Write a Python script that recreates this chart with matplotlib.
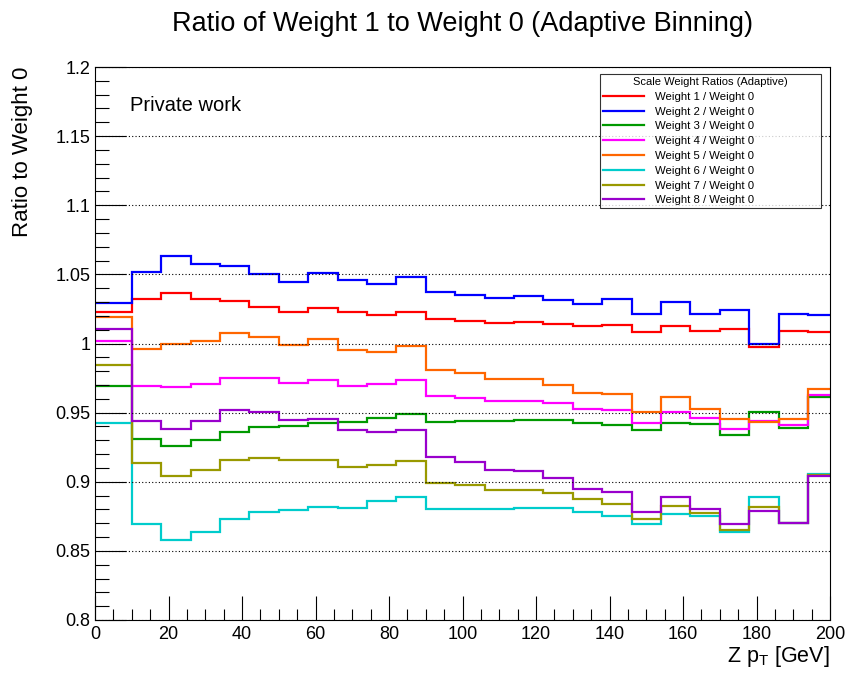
import matplotlib
matplotlib.use('Agg')
import matplotlib.pyplot as plt
from matplotlib.ticker import MultipleLocator

plt.rcParams['font.family'] = ['Liberation Sans', 'DejaVu Sans']

# Adaptive bin edges in Z pT [GeV]
edges = [0, 10, 18, 26, 34, 42, 50, 58, 66, 74, 82, 90, 98, 106, 114, 122,
         130, 138, 146, 154, 162, 170, 178, 186, 194, 200]

# Ratios, one value per bin
w1 = [1.023, 1.0324, 1.0368, 1.0324, 1.0305, 1.0266, 1.023, 1.0257, 1.023, 1.0206,
      1.023, 1.0175, 1.0163, 1.0148, 1.0156, 1.0139, 1.0127, 1.0136, 1.0081, 1.0129,
      1.009, 1.0102, 0.9975, 1.009, 1.0081]
w2 = [1.029, 1.0519, 1.0635, 1.0575, 1.056, 1.0505, 1.0443, 1.0512, 1.0462, 1.0428,
      1.0479, 1.0375, 1.0351, 1.0332, 1.0344, 1.0315, 1.0288, 1.0322, 1.0213, 1.030,
      1.0213, 1.024, 1.0, 1.0213, 1.0204]
w3 = [0.9693, 0.9309, 0.9261, 0.9305, 0.9363, 0.9394, 0.9406, 0.9423, 0.943, 0.9461,
      0.949, 0.943, 0.9437, 0.9437, 0.9445, 0.9445, 0.9428, 0.941, 0.9372, 0.9423,
      0.9415, 0.9336, 0.9502, 0.9387, 0.961]
w4 = [1.002, 0.9695, 0.9683, 0.9705, 0.9748, 0.9748, 0.9717, 0.9739, 0.9695, 0.9707,
      0.9739, 0.9623, 0.9606, 0.9584, 0.9584, 0.957, 0.9526, 0.9519, 0.9422, 0.9502,
      0.9461, 0.9383, 0.9436, 0.941, 0.963]
w5 = [1.0194, 0.9961, 0.9993, 1.002, 1.0078, 1.0049, 0.9989, 1.003, 0.9954, 0.9939,
      0.9983, 0.9808, 0.9786, 0.974, 0.974, 0.9703, 0.964, 0.9635, 0.9502, 0.9616,
      0.9526, 0.9456, 0.9434, 0.9456, 0.9671]
w6 = [0.9425, 0.8697, 0.8582, 0.8637, 0.8728, 0.8779, 0.8798, 0.8817, 0.881, 0.8861,
      0.889, 0.8803, 0.8803, 0.8803, 0.881, 0.881, 0.8781, 0.8752, 0.8694, 0.8766,
      0.8752, 0.8634, 0.889, 0.8704, 0.9059]
w7 = [0.9842, 0.9136, 0.9042, 0.9085, 0.9155, 0.9172, 0.9155, 0.916, 0.9107, 0.9119,
      0.9153, 0.8993, 0.8976, 0.8942, 0.8942, 0.8921, 0.8873, 0.8841, 0.8728, 0.8824,
      0.8774, 0.8654, 0.8819, 0.870, 0.9049]
w8 = [1.0107, 0.9439, 0.9383, 0.9436, 0.9519, 0.9505, 0.9447, 0.9454, 0.9374, 0.9358,
      0.9377, 0.9177, 0.9145, 0.9085, 0.9078, 0.9029, 0.895, 0.8928, 0.8781, 0.889,
      0.8803, 0.8694, 0.8786, 0.8704, 0.9042]

series = [w1, w2, w3, w4, w5, w6, w7, w8]
labels = ['Weight %d / Weight 0' % i for i in range(1, 9)]
colors = ['#ff0000', '#0000ff', '#009900', '#ff00ff', '#ff6600', '#00cccc', '#999900', '#9900cc']

fig = plt.figure(figsize=(8.51, 6.73), dpi=100)
ax = fig.add_axes([95 / 851, 1 - 620 / 673, 735 / 851, 553 / 673])

for vals, lab, col in zip(series, labels, colors):
    ax.stairs(vals, edges, color=col, lw=1.6, label=lab, baseline=None)

ax.set_xlim(0, 200)
ax.set_ylim(0.8, 1.2)
ax.xaxis.set_major_locator(MultipleLocator(20))
ax.xaxis.set_minor_locator(MultipleLocator(5))
ax.yaxis.set_minor_locator(MultipleLocator(0.01))
ax.set_yticks([0.8, 0.85, 0.9, 0.95, 1.0, 1.05, 1.1, 1.15, 1.2])
ax.set_yticklabels(['0.8', '0.85', '0.9', '0.95', '1', '1.05', '1.1', '1.15', '1.2'])

ax.tick_params(which='both', direction='in', top=False, right=False, labelsize=13)
ax.tick_params(axis='y', which='major', length=22, width=0.8)
ax.tick_params(axis='y', which='minor', length=10, width=0.8)
ax.tick_params(axis='x', which='major', length=17, width=0.8, pad=4)
ax.tick_params(axis='x', which='minor', length=8, width=0.8)
ax.yaxis.grid(True, which='major', linestyle=(0, (1, 2)), color='black', lw=0.8)

ax.set_title('Ratio of Weight 1 to Weight 0 (Adaptive Binning)', fontsize=19.5, pad=26)
ax.set_ylabel('Ratio to Weight 0', fontsize=16, loc='top', labelpad=16)
ax.set_xlabel(r'Z p$_\mathregular{T}$ [GeV]', fontsize=15.5, loc='right', labelpad=1)

ax.text(0.048, 0.93, 'Private work', transform=ax.transAxes, fontsize=14.5, va='center')

leg = ax.legend(loc='upper left', bbox_to_anchor=(0.687, 0.75, 0.301, 0.237), mode='expand',
                title='Scale Weight Ratios (Adaptive)', title_fontsize=8, fontsize=8.2,
                fancybox=False, edgecolor='black', handlelength=3.6, labelspacing=0.42,
                borderpad=0.25, handletextpad=1.0, borderaxespad=0)
leg.get_frame().set_linewidth(0.8)

fig.savefig('out.png', dpi=100)
